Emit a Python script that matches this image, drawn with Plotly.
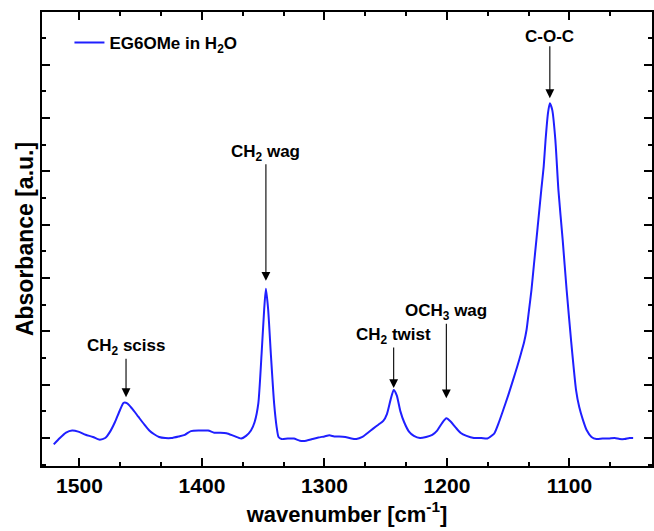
import numpy as np
import plotly.graph_objects as go

# Spectrum (wavenumber in cm^-1, absorbance in arbitrary units)
wavenumber = [1521, 1516, 1511, 1506, 1501, 1495, 1489, 1484, 1479, 1475, 1471, 1467, 1464, 1461,
              1457, 1452, 1447, 1443, 1439, 1435, 1430, 1425, 1419, 1414, 1409, 1402, 1395, 1390,
              1385, 1380, 1374, 1368, 1364, 1360, 1357, 1354, 1351.3, 1349.2, 1347.8, 1346, 1343.8,
              1341.1, 1339, 1337.5, 1335, 1330, 1325, 1320, 1315, 1310, 1305, 1300, 1296, 1292,
              1288, 1283, 1278, 1274, 1269, 1265, 1260, 1256, 1252, 1249, 1246, 1243.5, 1241, 1238,
              1235, 1231, 1227, 1222, 1217, 1212, 1208, 1204, 1200.5, 1197, 1193, 1189, 1184, 1178,
              1172, 1167, 1163, 1161, 1157.5, 1154, 1150, 1146, 1142.5, 1139.5, 1137, 1135, 1133,
              1131, 1129, 1127, 1125, 1123, 1121, 1119.5, 1117.5, 1116, 1114, 1111.5, 1109, 1105.5,
              1102.3, 1098.7, 1094.6, 1092, 1089, 1086, 1082, 1078, 1073, 1068, 1063, 1059, 1055,
              1051, 1048]
absorbance = [-0.12, 0.00, 0.10, 0.14, 0.12, 0.06, 0.02, -0.03, 0.00, 0.12, 0.30, 0.52, 0.66, 0.65,
              0.55, 0.40, 0.25, 0.14, 0.07, 0.02, 0.00, 0.00, 0.03, 0.06, 0.13, 0.14, 0.14, 0.10,
              0.10, 0.09, 0.04, -0.01, 0.04, 0.14, 0.30, 0.65, 1.59, 2.42, 2.80, 2.42, 1.59,
              0.65, 0.20, 0.02, -0.02, -0.01, -0.01, -0.05, -0.05, -0.02, 0.01, 0.03, 0.05, 0.03,
              0.03, 0.02, -0.01, -0.02, 0.02, 0.09, 0.18, 0.25, 0.32, 0.45, 0.72, 0.90, 0.80, 0.50,
              0.30, 0.12, 0.04, 0.00, 0.02, 0.06, 0.14, 0.28, 0.37, 0.31, 0.20, 0.10, 0.04, 0.00,
              0.00, -0.01, 0.05, 0.10, 0.30, 0.53, 0.80, 1.09, 1.35, 1.59, 1.80, 2.03, 2.40,
              2.78, 3.25, 3.71, 4.18, 4.65, 5.10, 5.59, 6.10, 6.28, 6.15, 5.59, 4.65, 3.71,
              2.78, 1.84, 0.90, 0.58, 0.34, 0.15, 0.02, -0.02, -0.01, -0.01, 0.00, -0.02, -0.02,
              0.00, 0.00]

series_name = "EG6OMe in H<sub>2</sub>O"

# Peak assignments
peak_labels = ["CH<sub>2</sub> sciss", "CH<sub>2</sub> wag", "CH<sub>2</sub> twist",
               "OCH<sub>3</sub> wag", "C-O-C"]
peak_positions = [1462, 1347.8, 1243.5, 1200.5, 1116]

# annotation geometry (pixels): label offset above the peak, gap between arrow tip and peak
label_dy = [56, 136, 54, 106, 67]
arrow_gap = [6, 8, 2, 20, 5]

FONT = "Liberation Sans, Arial, sans-serif"
BLUE = "#1f1fff"

fig = go.Figure()
fig.add_trace(go.Scatter(
    x=wavenumber, y=absorbance, mode="lines", name=series_name,
    line=dict(color=BLUE, width=2, shape="spline", smoothing=0.6),
))

wn = np.array(wavenumber[::-1])
ab = np.array(absorbance[::-1])
for lab, pos, dy, g in zip(peak_labels, peak_positions, label_dy, arrow_gap):
    yv = float(np.interp(pos, wn, ab))
    fig.add_annotation(x=pos, y=yv, xref="x", yref="y", text=lab, showarrow=True,
                       ax=0, ay=-dy, axref="pixel", ayref="pixel",
                       arrowhead=2, arrowsize=1.6, arrowwidth=1.1, arrowcolor="black",
                       standoff=g, startstandoff=0, borderpad=0,
                       font=dict(family=FONT, size=17, color="black", weight="bold"))

axis_common = dict(
    showline=True, linecolor="black", linewidth=2, mirror="allticks",
    ticks="inside", ticklen=8, tickwidth=1.5, tickcolor="black",
    showgrid=False, zeroline=False,
)

fig.update_xaxes(
    range=[1530.6, 1032.6], tick0=1500, dtick=100,
    tickfont=dict(family=FONT, size=21, color="black", weight="bold"),
    minor=dict(ticks="inside", ticklen=4, tickwidth=1.5, tickcolor="black", dtick=100 / 3, tick0=1500),
    title=dict(text="wavenumber [cm<sup>-1</sup>]", standoff=10,
               font=dict(family=FONT, size=22, color="black", weight="bold")),
    **axis_common,
)
fig.update_yaxes(
    range=[-0.525, 7.99], tick0=0, dtick=1, showticklabels=False,
    minor=dict(ticks="inside", ticklen=4, tickwidth=1.5, tickcolor="black", dtick=0.5, tick0=0),
    title=dict(text="Absorbance [a.u.]", standoff=0,
               font=dict(family=FONT, size=23, color="black", weight="bold")),
    **axis_common,
)

fig.update_layout(
    width=654, height=531,
    margin=dict(l=42, r=2, t=12, b=65, autoexpand=False),
    paper_bgcolor="white", plot_bgcolor="white",
    showlegend=True,
    legend=dict(x=0.045, y=0.932, xanchor="left", yanchor="middle",
                bgcolor="rgba(0,0,0,0)", borderwidth=0,
                font=dict(family=FONT, size=17, color="black", weight="bold")),
)

fig.write_html("out.html")
